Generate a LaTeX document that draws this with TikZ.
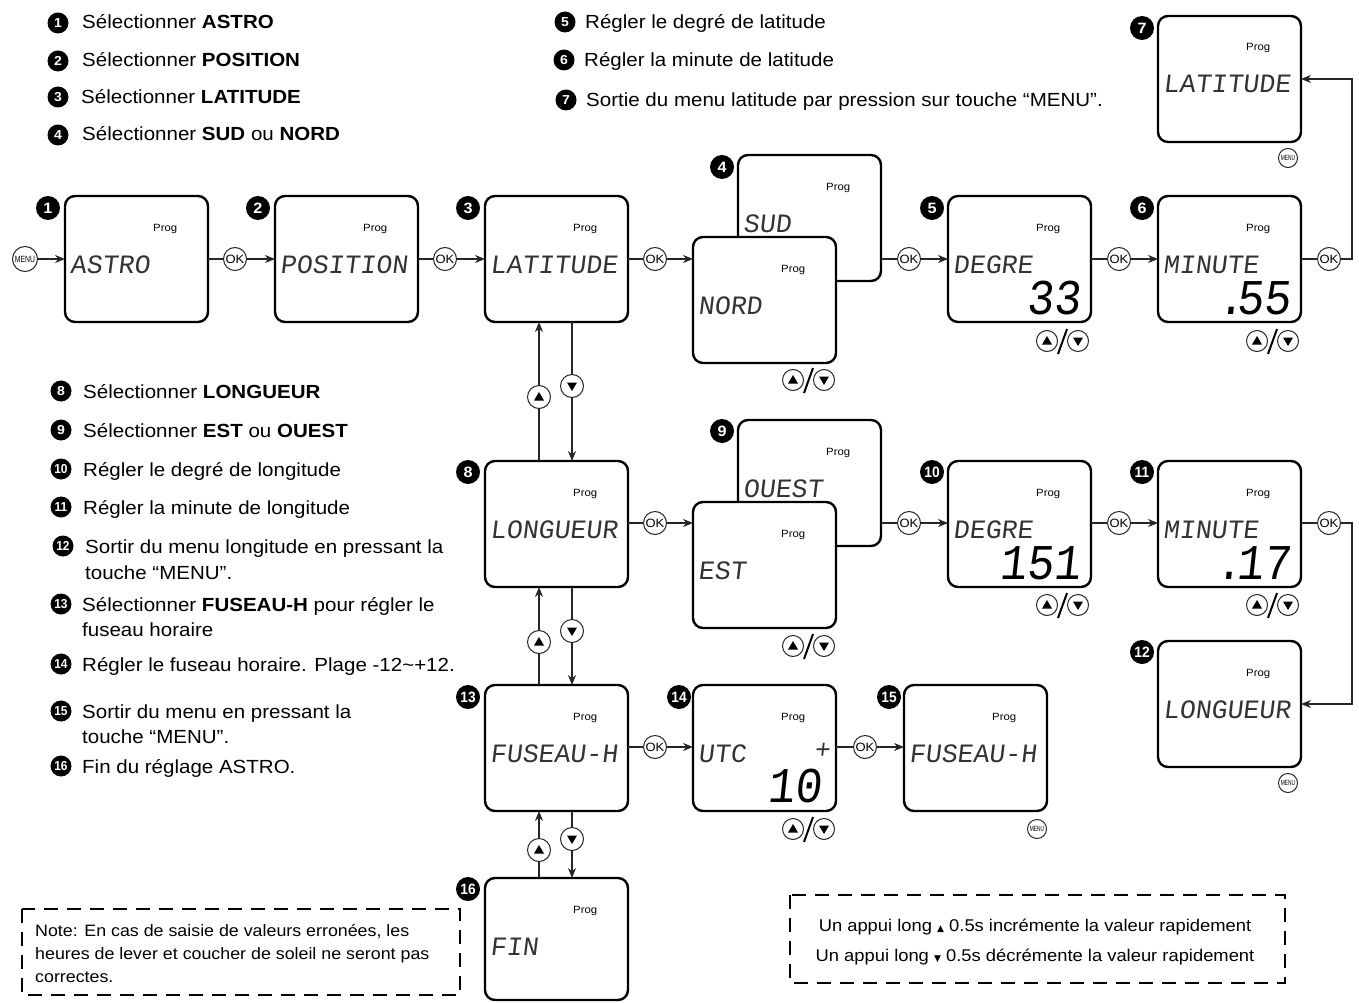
\documentclass[tikz,border=0pt]{standalone}
\usepackage{fontspec}
\setmainfont{Liberation Sans}[FakeStretch=1.08]
\newfontfamily\lcdfont{Liberation Mono}[FakeSlant=0.12]
\newfontfamily\symfont{DejaVu Sans}
\usetikzlibrary{arrows.meta,calc}
\tikzset{
  screen/.style={draw, line width=2.4pt, rounded corners=10pt, fill=white,
    minimum width=143pt, minimum height=126pt, anchor=north west, inner sep=0pt, outer sep=0pt},
  prog/.style={anchor=base west, inner sep=0pt, font=\fontsize{10.5}{10}\selectfont},
  lcd/.style={anchor=base west, inner sep=0pt, text=black!80, font=\lcdfont\fontsize{26.5}{27}\selectfont},
  bigd/.style={anchor=base east, inner sep=0pt, font=\lcdfont\fontsize{50}{50}\selectfont},
  dmark/.style={circle, fill=black, text=white, inner sep=0pt, minimum size=24pt,
    font=\bfseries\fontsize{15}{15}\selectfont},
  lmark/.style={circle, fill=black, text=white, inner sep=0pt, minimum size=21pt,
    font=\bfseries\fontsize{13}{13}\selectfont},
  ltext/.style={anchor=base west, inner sep=0pt, font=\fontsize{19}{23}\selectfont},
  ln/.style={line width=1.1pt, draw=black!85},
  arr/.style={ln, -{Stealth[length=10pt,width=8pt]}},
  okc/.style={circle, draw=black!85, line width=1pt, fill=white, minimum size=23pt, inner sep=0pt,
    font=\fontsize{12}{12}\selectfont},
  menuc/.style={circle, draw=black!85, line width=1pt, fill=white, minimum size=#1, inner sep=0pt,
    font=\fontsize{7.5}{7.5}\selectfont},
  menuc/.default=19pt,
  upc/.style={circle, draw=black!85, line width=1pt, fill=white, minimum size=#1, inner sep=0pt,
    path picture={\fill[black] ($(path picture bounding box.center)+(-5pt,-3.5pt)$) -- ++(10pt,0pt) -- ++(-5pt,8.5pt) -- cycle;}},
  upc/.default=21pt,
  dnc/.style={circle, draw=black!85, line width=1pt, fill=white, minimum size=#1, inner sep=0pt,
    path picture={\fill[black] ($(path picture bounding box.center)+(-5pt,3.5pt)$) -- ++(10pt,0pt) -- ++(-5pt,-8.5pt) -- cycle;}},
  dnc/.default=21pt,
  dashbox/.style={line width=2pt, dash pattern=on 14pt off 9pt},
}
\newcommand\lcdbox[4]{%
  \node[screen] (#1) at (#2,#3) {};
  \node[prog] at ($(#1.north west)+(88,35)$) {Prog};
  \node[lcd] at ($(#1.north west)+(5,77)$) {#4};
}
\newcommand\updown[3]{%
  \node[upc] (#1u) at (#2,#3) {};
  \node[dnc] (#1d) at ({#2+31},#3) {};
  \draw[line width=2pt] ({#2+11},{#3+13}) -- ({#2+20},{#3-12});
}
\begin{document}
\begin{tikzpicture}[x=1pt,y=-1pt]
\fill[white] (0,0) rectangle (1359,1003);
\useasboundingbox (0,0) rectangle (1359,1003);

% ---------- legends ----------
\node[lmark] (l1) at (58,23) {1};
\node[ltext] at (82,29) {Sélectionner \textbf{ASTRO}};
\node[lmark] (l2) at (58,61) {2};
\node[ltext] at (82,67) {Sélectionner \textbf{POSITION}};
\node[lmark] (l3) at (58,97) {3};
\node[ltext] at (81,104) {Sélectionner \textbf{LATITUDE}};
\node[lmark] (l4) at (58,135) {4};
\node[ltext] at (82,141) {Sélectionner \textbf{SUD} ou \textbf{NORD}};

\node[lmark] (l5) at (565,22) {5};
\node[ltext] at (585,29) {Régler le degré de latitude};
\node[lmark] (l6) at (564,60) {6};
\node[ltext] at (584,67) {Régler la minute de latitude};
\node[lmark] (l7) at (566,100) {7};
\node[ltext] at (586,107) {Sortie du menu latitude par pression sur touche “MENU”.};

\node[lmark] (l8) at (61,391) {8};
\node[ltext] at (83,398) {Sélectionner \textbf{LONGUEUR}};
\node[lmark] (l9) at (61,430) {9};
\node[ltext] at (83,437) {Sélectionner \textbf{EST} ou \textbf{OUEST}};
\node[lmark] (l10) at (61,469) {\scalebox{0.85}[1]{10}};
\node[ltext] at (83,476) {Régler le degré de longitude};
\node[lmark] (l11) at (61,507) {\scalebox{0.85}[1]{11}};
\node[ltext] at (83,514) {Régler la minute de longitude};
\node[lmark] (l12) at (63,546) {\scalebox{0.85}[1]{12}};
\node[ltext] at (85,553) {Sortir du menu longitude en pressant la};
\node[ltext] at (85,579) {touche “MENU”.};
\node[lmark] (l13) at (61,604) {\scalebox{0.85}[1]{13}};
\node[ltext] at (82,611) {Sélectionner \textbf{FUSEAU-H} pour régler le};
\node[ltext] at (82,636) {fuseau horaire};
\node[lmark] (l14) at (61,664) {\scalebox{0.85}[1]{14}};
\node[ltext] at (82,671) {Régler le fuseau horaire. Plage -12\textasciitilde+12.};
\node[lmark] (l15) at (61,711) {\scalebox{0.85}[1]{15}};
\node[ltext] at (82,718) {Sortir du menu en pressant la};
\node[ltext] at (82,743) {touche “MENU”.};
\node[lmark] (l16) at (61,766) {\scalebox{0.85}[1]{16}};
\node[ltext] at (82,773) {Fin du réglage ASTRO.};

% ---------- screens ----------
\lcdbox{s1}{65}{196}{ASTRO}
\lcdbox{s2}{275}{196}{POSITION}
\lcdbox{s3}{485}{196}{LATITUDE}
\lcdbox{s4b}{738}{155}{SUD}
\lcdbox{s4f}{693}{237}{NORD}
\lcdbox{s5}{948}{196}{DEGRE}
\lcdbox{s6}{1158}{196}{MINUTE}
\lcdbox{s7}{1158}{16}{LATITUDE}
\lcdbox{s8}{485}{461}{LONGUEUR}
\lcdbox{s9b}{738}{420}{OUEST}
\lcdbox{s9f}{693}{502}{EST}
\lcdbox{s10}{948}{461}{DEGRE}
\lcdbox{s11}{1158}{461}{MINUTE}
\lcdbox{s12}{1158}{641}{LONGUEUR}
\lcdbox{s13}{485}{685}{FUSEAU-H}
\lcdbox{s14}{693}{685}{UTC}
\lcdbox{s15}{904}{685}{FUSEAU-H}
\node[screen, minimum height=122pt] (s16) at (485,878) {};
\node[prog] at ($(s16.north west)+(88,35)$) {Prog};
\node[lcd] at ($(s16.north west)+(5,77)$) {FIN};

\node[bigd] (d5) at ($(s5.south east)+(-10,-8)$) {\scalebox{0.9}[1]{33}};
\node[bigd] (d6) at ($(s6.south east)+(-10,-8)$) {\scalebox{0.9}[1]{.\kern-8pt55}};
\node[bigd] (d10) at ($(s10.south east)+(-10,-8)$) {\scalebox{0.9}[1]{151}};
\node[bigd] (d11) at ($(s11.south east)+(-10,-8)$) {\scalebox{0.9}[1]{.\kern-6pt17}};
\node[bigd] (d14) at ($(s14.south east)+(-14,-9)$) {\scalebox{0.9}[1]{10}};
\node[lcd, anchor=center] (p14) at ($(s14.north west)+(129,66)$) {+};

% ---------- markers ----------
\node[dmark] (m1) at (48,208) {1};
\node[dmark] (m2) at (258,208) {2};
\node[dmark] (m3) at (468,208) {3};
\node[dmark] (m4) at (722,167) {4};
\node[dmark] (m5) at (932,208) {5};
\node[dmark] (m6) at (1142,208) {6};
\node[dmark] (m7) at (1142,28) {7};
\node[dmark] (m8) at (468,472) {8};
\node[dmark] (m9) at (722,431) {9};
\node[dmark] (m10) at (932,472) {\scalebox{0.85}[1]{10}};
\node[dmark] (m11) at (1142,472) {\scalebox{0.85}[1]{11}};
\node[dmark] (m12) at (1142,652) {\scalebox{0.85}[1]{12}};
\node[dmark] (m13) at (468,697) {\scalebox{0.85}[1]{13}};
\node[dmark] (m14) at (679,697) {\scalebox{0.85}[1]{14}};
\node[dmark] (m15) at (889,697) {\scalebox{0.85}[1]{15}};
\node[dmark] (m16) at (468,889) {\scalebox{0.85}[1]{16}};

% ---------- OK buttons and row connectors ----------
\node[menuc=25pt] (menu0) at (25,259) {\scalebox{0.7}[1]{\fontsize{9}{9}\selectfont MENU}};
\draw[arr] (menu0) -- (s1.west);

\node[okc] (ok1) at (235,259) {OK};
\node[okc] (ok2) at (445,259) {OK};
\node[okc] (ok3) at (655,259) {OK};
\node[okc] (ok4) at (909,259) {OK};
\node[okc] (ok5) at (1119,259) {OK};
\node[okc] (ok6) at (1329,259) {OK};
\draw[ln] (s1.east |- ok1) -- (ok1); \draw[arr] (ok1) -- (s2.west |- ok1);
\draw[ln] (s2.east |- ok2) -- (ok2); \draw[arr] (ok2) -- (s3.west |- ok2);
\draw[ln] (s3.east |- ok3) -- (ok3); \draw[arr] (ok3) -- (s4f.west |- ok3);
\draw[ln] (s4b.east |- ok4) -- (ok4); \draw[arr] (ok4) -- (s5.west |- ok4);
\draw[ln] (s5.east |- ok5) -- (ok5); \draw[arr] (ok5) -- (s6.west |- ok5);
\draw[ln] (s6.east |- ok6) -- (ok6);
\coordinate (c1) at (1352,259);
\draw[arr] (ok6) -- (c1) |- (s7.east);

\node[okc] (ok7) at (655,523) {OK};
\node[okc] (ok8) at (909,523) {OK};
\node[okc] (ok9) at (1119,523) {OK};
\node[okc] (ok10) at (1329,523) {OK};
\draw[ln] (s8.east |- ok7) -- (ok7); \draw[arr] (ok7) -- (s9f.west |- ok7);
\draw[ln] (s9b.east |- ok8) -- (ok8); \draw[arr] (ok8) -- (s10.west |- ok8);
\draw[ln] (s10.east |- ok9) -- (ok9); \draw[arr] (ok9) -- (s11.west |- ok9);
\draw[ln] (s11.east |- ok10) -- (ok10);
\coordinate (c2) at (1352,523);
\draw[arr] (ok10) -- (c2) |- (s12.east);

\node[okc] (ok11) at (655,747) {OK};
\node[okc] (ok12) at (865,747) {OK};
\draw[ln] (s13.east |- ok11) -- (ok11); \draw[arr] (ok11) -- (s14.west |- ok11);
\draw[ln] (s14.east |- ok12) -- (ok12); \draw[arr] (ok12) -- (s15.west |- ok12);

% ---------- MENU buttons under screens ----------
\node[menuc] (menu7) at (1288,158) {\scalebox{0.6}[1]{MENU}};
\node[menuc] (menu12) at (1288,783) {\scalebox{0.6}[1]{MENU}};
\node[menuc] (menu15) at (1037,829) {\scalebox{0.6}[1]{MENU}};

% ---------- up/down pairs ----------
\updown{ud4}{793}{380}
\updown{ud5}{1047}{341}
\updown{ud6}{1257}{341}
\updown{ud9}{793}{646}
\updown{ud10}{1047}{605}
\updown{ud11}{1257}{605}
\updown{ud14}{793}{829}

% ---------- vertical connectors ----------
\node[upc=23pt] (va1) at (539,397) {};
\node[dnc=23pt] (vd1) at (572,386) {};
\draw[ln] (s8.north -| va1) -- (va1); \draw[arr] (va1) -- (s3.south -| va1);
\draw[ln] (s3.south -| vd1) -- (vd1); \draw[arr] (vd1) -- (s8.north -| vd1);
\node[upc=23pt] (va2) at (539,642) {};
\node[dnc=23pt] (vd2) at (572,631) {};
\draw[ln] (s13.north -| va2) -- (va2); \draw[arr] (va2) -- (s8.south -| va2);
\draw[ln] (s8.south -| vd2) -- (vd2); \draw[arr] (vd2) -- (s13.north -| vd2);
\node[upc=23pt] (va3) at (539,850) {};
\node[dnc=23pt] (vd3) at (572,839) {};
\draw[ln] (s16.north -| va3) -- (va3); \draw[arr] (va3) -- (s13.south -| va3);
\draw[ln] (s13.south -| vd3) -- (vd3); \draw[arr] (vd3) -- (s16.north -| vd3);

% ---------- dashed notes ----------
\draw[dashbox] (22,909) rectangle (460,995);
\node[anchor=base west, inner sep=0pt, font=\fontsize{16.5}{20}\selectfont] (n1) at (35,936) {Note: En cas de saisie de valeurs erronées, les};
\node[anchor=base west, inner sep=0pt, font=\fontsize{16.5}{20}\selectfont] (n2) at (35,959) {heures de lever et coucher de soleil ne seront pas};
\node[anchor=base west, inner sep=0pt, font=\fontsize{16.5}{20}\selectfont] (n3) at (35,982) {correctes.};

\draw[dashbox] (790,895) rectangle (1285,983);
\node[anchor=base, inner sep=0pt, font=\fontsize{17}{20}\selectfont] (r1) at (1035,931) {Un appui long {\symfont\fontsize{9}{9}\selectfont ▲} 0.5s incrémente la valeur rapidement};
\node[anchor=base, inner sep=0pt, font=\fontsize{17}{20}\selectfont] (r2) at (1035,961) {Un appui long {\symfont\fontsize{9}{9}\selectfont ▼} 0.5s décrémente la valeur rapidement};
\end{tikzpicture}
\end{document}
